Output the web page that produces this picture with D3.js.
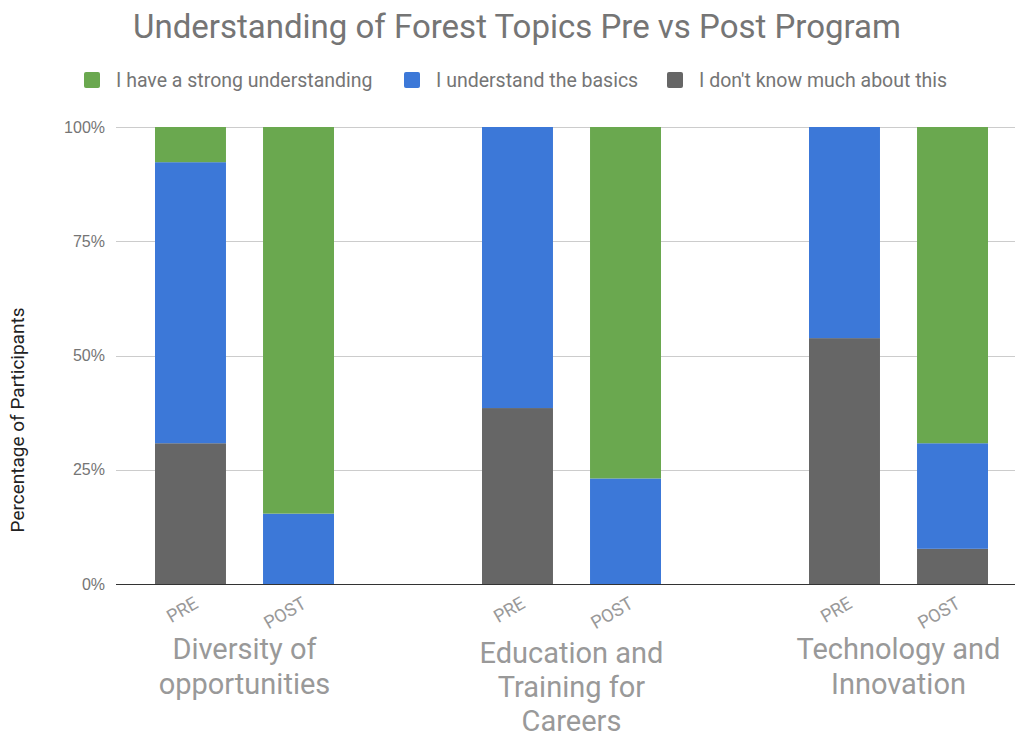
<!DOCTYPE html>
<html lang="en">
<head>
	<meta charset="UTF-8">
	<title>Understanding of Forest Topics</title>
	<script src="https://d3js.org/d3.v7.min.js"></script>
	<style>
		body {
			margin: 0;
			background-color: white;
		}
		svg {
			font-family: Roboto, sans-serif;
		}
		.grid line {
			stroke: #cccccc;
			shape-rendering: crispEdges;
		}
		.yaxis text {
			font-size: 16px;
			fill: #757575;
		}
	</style>
</head>
<body>
	<script>
		// data, in percent of 13 participants
		var groups = ['Diversity of opportunities', 'Education and Training for Careers', 'Technology and Innovation'];
		var groupLines = [['Diversity of', 'opportunities'], ['Education and', 'Training for', 'Careers'], ['Technology and', 'Innovation']];
		var phases = ['PRE', 'POST'];
		var seriesNames = ['I have a strong understanding', 'I understand the basics', "I don't know much about this"];
		// order: Diversity PRE, Diversity POST, Education PRE, Education POST, Tech PRE, Tech POST
		var dontKnow = [30.8, 0, 38.5, 0, 53.8, 7.7];
		var basics = [61.5, 15.4, 61.5, 23.1, 46.2, 23.1];
		var strong = [7.7, 84.6, 0, 76.9, 0, 69.2];
		var yTicks = [0, 25, 50, 75, 100];

		var colors = ['#6aa84f', '#3c78d8', '#666666'];

		var width = 1015,
			height = 738;
		var plot = {left: 116, right: 1015, top: 127, bottom: 584};

		var svg = d3.select('body')
			.append('svg')
			.attr('width', width)
			.attr('height', height);

		var y = d3.scaleLinear()
			.domain([0, 100])
			.range([plot.bottom, plot.top]);

		var x0 = d3.scaleBand()
			.domain(groups)
			.range([81, 1062]);

		var x1 = d3.scaleBand()
			.domain(phases)
			.range([0, x0.bandwidth()])
			.paddingInner(0.343)
			.paddingOuter(0.685);

		// build rows for stacking
		var rows = [];
		groups.forEach(function (g, gi) {
			phases.forEach(function (p, pi) {
				var i = gi * 2 + pi;
				rows.push({group: g, phase: p, dontKnow: dontKnow[i], basics: basics[i], strong: strong[i]});
			});
		});

		var stack = d3.stack().keys(['dontKnow', 'basics', 'strong']);
		var stacked = stack(rows);
		var colorByKey = {dontKnow: colors[2], basics: colors[1], strong: colors[0]};

		// gridlines
		svg.append('g')
			.attr('class', 'grid')
			.selectAll('line')
			.data(yTicks)
			.enter().append('line')
			.attr('x1', plot.left)
			.attr('x2', plot.right)
			.attr('y1', function (d) { return Math.round(y(d)) + 0.5; })
			.attr('y2', function (d) { return Math.round(y(d)) + 0.5; });

		// y axis labels
		var yAxis = d3.axisLeft(y)
			.tickValues(yTicks)
			.tickSize(0)
			.tickPadding(11)
			.tickFormat(function (d) { return d + '%'; });
		svg.append('g')
			.attr('class', 'yaxis')
			.attr('transform', 'translate(' + plot.left + ',0)')
			.call(yAxis)
			.call(function (g) { g.select('.domain').remove(); });

		// bars
		svg.append('g')
			.selectAll('g')
			.data(stacked)
			.enter().append('g')
			.attr('fill', function (d) { return colorByKey[d.key]; })
			.selectAll('rect')
			.data(function (d) { return d; })
			.enter().append('rect')
			.attr('x', function (d) { return x0(d.data.group) + x1(d.data.phase); })
			.attr('width', x1.bandwidth())
			.attr('y', function (d) { return y(d[1]); })
			.attr('height', function (d) { return y(d[0]) - y(d[1]); });

		// baseline
		svg.append('line')
			.attr('x1', plot.left)
			.attr('x2', plot.right)
			.attr('y1', plot.bottom + 0.5)
			.attr('y2', plot.bottom + 0.5)
			.attr('stroke', '#333333')
			.attr('stroke-width', 1);

		// PRE / POST labels
		svg.append('g')
			.selectAll('text')
			.data(rows)
			.enter().append('text')
			.attr('transform', function (d) {
				var cx = x0(d.group) + x1(d.phase) + x1.bandwidth() / 2 + 9;
				return 'translate(' + cx + ',' + 607 + ') rotate(-30)';
			})
			.attr('text-anchor', 'end')
			.attr('font-size', 18)
			.attr('fill', '#999999')
			.text(function (d) { return d.phase; });

		// group labels
		svg.append('g')
			.selectAll('text')
			.data(groups)
			.enter().append('text')
			.attr('text-anchor', 'middle')
			.attr('font-size', 29)
			.attr('fill', '#999999')
			.attr('x', function (d) { return x0(d) + x0.bandwidth() / 2; })
			.attr('y', function (d, i) { return groupLines[i].length > 2 ? 663 : 659; })
			.each(function (d, i) {
				var t = d3.select(this);
				var step = groupLines[i].length > 2 ? 34 : 35;
				groupLines[i].forEach(function (line, li) {
					t.append('tspan')
						.attr('x', x0(d) + x0.bandwidth() / 2)
						.attr('dy', li === 0 ? 0 : step)
						.text(line);
				});
			});

		// y axis title
		svg.append('text')
			.attr('transform', 'translate(24,420) rotate(-90)')
			.attr('text-anchor', 'middle')
			.attr('font-size', 19)
			.attr('fill', '#222222')
			.text('Percentage of Participants');

		// title
		svg.append('text')
			.attr('x', 517)
			.attr('y', 38)
			.attr('text-anchor', 'middle')
			.attr('font-size', 33)
			.attr('fill', '#757575')
			.text('Understanding of Forest Topics Pre vs Post Program');

		// legend
		var legendX = [84, 404, 667];
		var legend = svg.append('g')
			.selectAll('g')
			.data(seriesNames)
			.enter().append('g')
			.attr('transform', function (d, i) { return 'translate(' + legendX[i] + ',72)'; });
		legend.append('rect')
			.attr('width', 16)
			.attr('height', 16)
			.attr('rx', 2)
			.attr('fill', function (d, i) { return colors[i]; });
		legend.append('text')
			.attr('x', 32)
			.attr('y', 15)
			.attr('font-size', 19.5)
			.attr('fill', '#757575')
			.text(function (d) { return d; });
	</script>
</body>
</html>
